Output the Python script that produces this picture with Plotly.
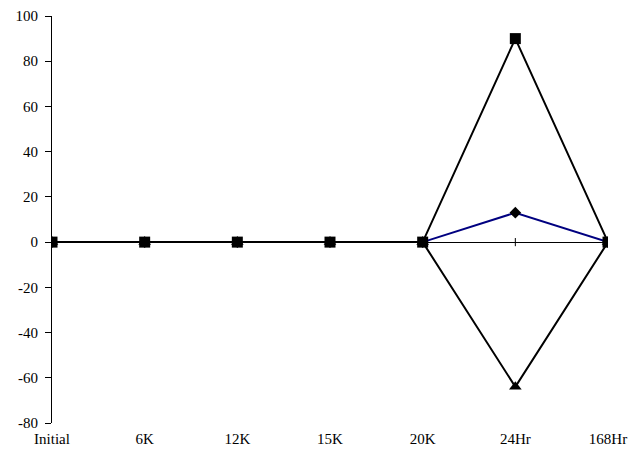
import plotly.graph_objects as go

categories = ["Initial", "6K", "12K", "15K", "20K", "24Hr", "168Hr"]
max_vals = [0, 0, 0, 0, 0, 90, 0]
mean_vals = [0, 0, 0, 0, 0, 13, 0]
min_vals = [0, 0, 0, 0, 0, -64, 0]
y_ticks = [-80, -60, -40, -20, 0, 20, 40, 60, 80, 100]
y_tick_labels = ["-80", "-60", "-40", "-20", "0", "20", "40", "60", "80", "100"]

fig = go.Figure()
fig.add_trace(go.Scatter(x=categories, y=mean_vals, mode="lines+markers",
                         line=dict(color="#000080", width=2),
                         marker=dict(symbol="diamond", size=9, color="black"),
                         name="Mean"))
fig.add_trace(go.Scatter(x=categories, y=min_vals, mode="lines+markers",
                         line=dict(color="black", width=2),
                         marker=dict(symbol="triangle-up", size=11, color="black"),
                         name="Min"))
fig.add_trace(go.Scatter(x=categories, y=max_vals, mode="lines+markers",
                         line=dict(color="black", width=2),
                         marker=dict(symbol="square", size=11, color="black"),
                         name="Max"))

# small crossing ticks on the zero line
for c in categories:
    fig.add_shape(type="line", x0=c, x1=c, y0=-1.8, y1=1.8, xref="x", yref="y",
                  line=dict(color="black", width=1), layer="below")

fig.update_layout(
    width=632, height=454,
    margin=dict(l=52, r=24, t=16, b=31, autoexpand=False),
    paper_bgcolor="white", plot_bgcolor="white",
    showlegend=False,
    font=dict(family="Liberation Serif", size=15, color="black"),
    xaxis=dict(type="category", range=[0, 6], showgrid=False, zeroline=False,
               showline=False, ticks="", automargin=False, ticklabelstandoff=5,
               tickfont=dict(family="Liberation Serif", size=15, color="black")),
    yaxis=dict(range=[-80, 100], tickvals=y_ticks, ticktext=y_tick_labels,
               showgrid=False, automargin=False,
               zeroline=True, zerolinecolor="black", zerolinewidth=1,
               showline=True, linecolor="black", linewidth=1,
               ticks="outside", ticklen=6, tickcolor="black", ticklabelstandoff=4,
               tickfont=dict(family="Liberation Serif", size=15, color="black")),
)

fig.write_html("out.html", config={"displayModeBar": False},
               post_script="document.body.style.margin='0';document.body.style.overflow='hidden';")
